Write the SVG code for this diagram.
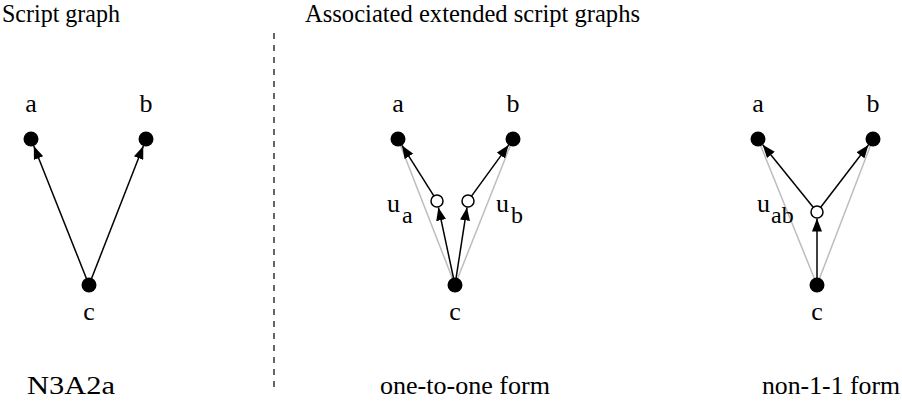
<svg xmlns="http://www.w3.org/2000/svg" width="902" height="412" viewBox="0 0 902 412">
<defs>
<style>
text{font-family:"Liberation Serif","DejaVu Serif",serif;font-size:25px;fill:#000}
.lbl{text-anchor:middle;font-size:26px}
.sub{font-size:24px}
.e{stroke:#000;stroke-width:1.5;fill:none;marker-end:url(#ah)}
.g{stroke:#bdbdbd;stroke-width:1.5;fill:none}
.dot{fill:#000}
.open{fill:#fff;stroke:#000;stroke-width:1.5}
</style>
<marker id="ah" viewBox="0 0 13 10" refX="13" refY="5" markerWidth="13" markerHeight="10" markerUnits="userSpaceOnUse" orient="auto">
<path d="M0,0 L13,5 L0,10 z" fill="#000"/>
</marker>
</defs>
<rect width="902" height="412" fill="#fff"/>
<text x="2" y="22" textLength="118" lengthAdjust="spacingAndGlyphs">Script graph</text>
<text x="305" y="22" textLength="335" lengthAdjust="spacingAndGlyphs">Associated extended script graphs</text>
<text x="27" y="394" style="font-size:26px" textLength="88" lengthAdjust="spacingAndGlyphs">N3A2a</text>
<text x="380" y="394" textLength="170" lengthAdjust="spacingAndGlyphs">one-to-one form</text>
<text x="762" y="394" textLength="138" lengthAdjust="spacingAndGlyphs">non-1-1 form</text>
<line x1="274" y1="33" x2="274" y2="387" stroke="#000" stroke-width="1.2" stroke-dasharray="6 6"/>
<g id="connectors">
<line class="e" x1="89" y1="285" x2="33.8" y2="146"/>
<line class="e" x1="89" y1="285" x2="143.3" y2="146"/>
<line class="g" x1="455" y1="285" x2="398" y2="139"/>
<line class="g" x1="455" y1="285" x2="513" y2="139"/>
<line class="e" x1="455" y1="285" x2="438.4" y2="207.4"/>
<line class="e" x1="455" y1="285" x2="467" y2="207.4"/>
<line class="e" x1="433.8" y1="195.9" x2="402" y2="145.4"/>
<line class="e" x1="471.5" y1="196.1" x2="508.6" y2="145.1"/>
<line class="g" x1="817" y1="285" x2="758" y2="139"/>
<line class="g" x1="817" y1="285" x2="873" y2="139"/>
<line class="e" x1="817" y1="285" x2="817" y2="218.5"/>
<line class="e" x1="813.2" y1="207.3" x2="762.7" y2="144.8"/>
<line class="e" x1="820.7" y1="207.2" x2="868.4" y2="145"/>
</g>
<g id="g1-a"><circle class="dot" cx="31" cy="139" r="7.5"/><text class="lbl" x="31" y="112">a</text></g>
<g id="g1-b"><circle class="dot" cx="146" cy="139" r="7.5"/><text class="lbl" x="146" y="112">b</text></g>
<g id="g1-c"><circle class="dot" cx="89" cy="285" r="7.5"/><text class="lbl" x="89" y="320">c</text></g>
<g id="g2-a"><circle class="dot" cx="398" cy="139" r="7.5"/><text class="lbl" x="398" y="112">a</text></g>
<g id="g2-b"><circle class="dot" cx="513" cy="139" r="7.5"/><text class="lbl" x="513" y="112">b</text></g>
<g id="g2-c"><circle class="dot" cx="455" cy="285" r="7.5"/><text class="lbl" x="455" y="320">c</text></g>
<g id="g2-ua"><circle class="open" cx="437" cy="201" r="6"/><text x="387" y="212" style="font-size:26px">u</text><text class="sub" x="402" y="223">a</text></g>
<g id="g2-ub"><circle class="open" cx="468" cy="201" r="6"/><text x="496" y="212" style="font-size:26px">u</text><text class="sub" x="511" y="223">b</text></g>
<g id="g3-a"><circle class="dot" cx="758" cy="139" r="7.5"/><text class="lbl" x="758" y="112">a</text></g>
<g id="g3-b"><circle class="dot" cx="873" cy="139" r="7.5"/><text class="lbl" x="873" y="112">b</text></g>
<g id="g3-c"><circle class="dot" cx="817" cy="285" r="7.5"/><text class="lbl" x="817" y="320">c</text></g>
<g id="g3-uab"><circle class="open" cx="817" cy="212" r="6"/><text x="757" y="212" style="font-size:26px">u</text><text class="sub" x="771" y="223">ab</text></g>
</svg>
